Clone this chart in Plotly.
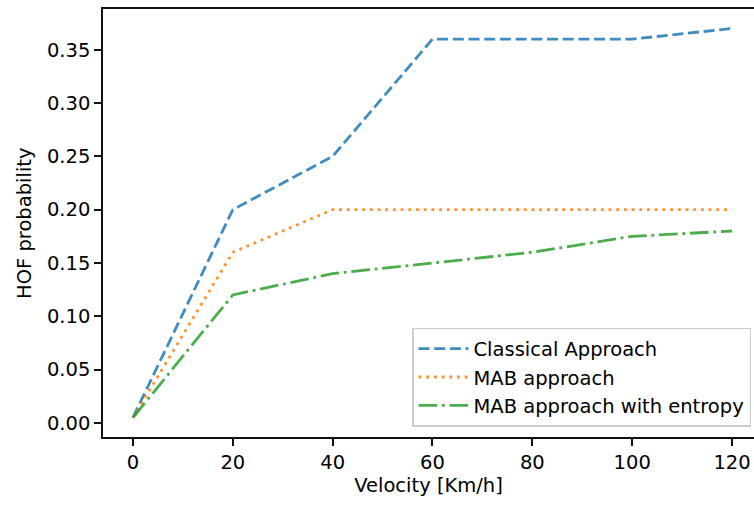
import plotly.graph_objects as go

velocity = [0, 20, 40, 60, 80, 100, 120]
classical = [0.005, 0.20, 0.25, 0.36, 0.36, 0.36, 0.37]
mab = [0.005, 0.16, 0.20, 0.20, 0.20, 0.20, 0.20]
mab_entropy = [0.005, 0.12, 0.14, 0.15, 0.16, 0.175, 0.18]

series_names = ["Classical Approach", "MAB approach", "MAB approach with entropy"]
colors = ["rgba(31,119,180,0.85)", "rgba(255,127,14,0.85)", "rgba(44,160,44,0.85)"]
dashes = ["11px,4.7px", "2.9px,4.8px", "18.7px,4.7px,2.9px,4.7px"]
x_ticks = [0, 20, 40, 60, 80, 100, 120]
y_ticks = [0.00, 0.05, 0.10, 0.15, 0.20, 0.25, 0.30, 0.35]

fig = go.Figure()
for name, ys, c, d in zip(series_names, [classical, mab, mab_entropy], colors, dashes):
    fig.add_trace(go.Scatter(x=velocity, y=ys, mode="lines", name=name,
                             line=dict(color=c, width=2.8, dash=d)))

font = dict(family="DejaVu Sans", size=19.5, color="black")
fig.update_layout(
    width=754, height=505,
    margin=dict(l=103, r=0, t=9, b=68),
    plot_bgcolor="white", paper_bgcolor="white",
    font=font,
    showlegend=True,
    legend=dict(x=0.9954, y=0.0234, xanchor="right", yanchor="bottom",
                bgcolor="rgba(255,255,255,0.8)", bordercolor="#cccccc", borderwidth=1.5,
                font=font, tracegroupgap=0, itemwidth=50),
    xaxis=dict(range=[-6, 124.4], tickvals=x_ticks, ticktext=[str(v) for v in x_ticks],
               showgrid=False, zeroline=False, showline=True, linecolor="#111111", linewidth=1.5,
               mirror=True, ticks="outside", ticklen=7, tickwidth=1.5, tickcolor="#111111",
               title=dict(text="Velocity [Km/h]", standoff=4, font=font)),
    yaxis=dict(range=[-0.01325, 0.38825], tickvals=y_ticks,
               ticktext=[f"{v:.2f}" for v in y_ticks],
               showgrid=False, zeroline=False, showline=True, linecolor="#111111", linewidth=1.5,
               mirror=False, ticks="outside", ticklen=7, tickwidth=1.5, tickcolor="#111111"),
    annotations=[dict(text="HOF probability", xref="paper", yref="paper",
                      x=-0.1214, y=0.5, xanchor="center", yanchor="middle",
                      textangle=-90, showarrow=False, font=font)],
)
fig.write_html("out.html")
